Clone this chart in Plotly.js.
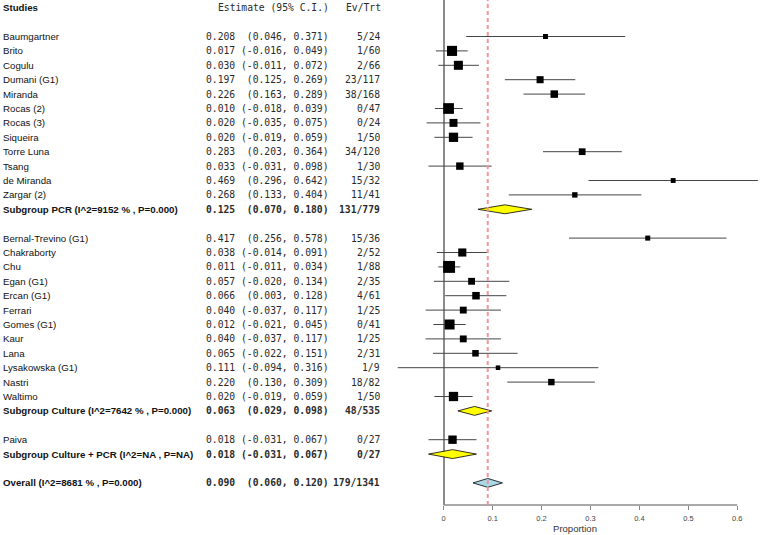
<!DOCTYPE html>
<html><head><meta charset="utf-8">
<script src="https://cdn.plot.ly/plotly-3.0.1.min.js"></script>
<style>html,body{margin:0;padding:0;background:#fff}#chart{width:760px;height:535px}</style>
</head><body><div id="chart"></div>
<script>
// ---------------- DATA ----------------
const pcrStudies = ["Baumgartner","Brito","Cogulu","Dumani (G1)","Miranda","Rocas (2)","Rocas (3)","Siqueira","Torre Luna","Tsang","de Miranda","Zargar (2)"];
const pcrEst    = [0.208,0.017,0.030,0.197,0.226,0.010,0.020,0.020,0.283,0.033,0.469,0.268];
const pcrLower  = [0.046,-0.016,-0.011,0.125,0.163,-0.018,-0.035,-0.019,0.203,-0.031,0.296,0.133];
const pcrUpper  = [0.371,0.049,0.072,0.269,0.289,0.039,0.075,0.059,0.364,0.098,0.642,0.404];
const pcrEvents = [5,1,2,23,38,0,0,1,34,1,15,11];
const pcrTotals = [24,60,66,117,168,47,24,50,120,30,32,41];

const cultureStudies = ["Bernal-Trevino (G1)","Chakraborty","Chu","Egan (G1)","Ercan (G1)","Ferrari","Gomes (G1)","Kaur","Lana","Lysakowska (G1)","Nastri","Waltimo"];
const cultureEst    = [0.417,0.038,0.011,0.057,0.066,0.040,0.012,0.040,0.065,0.111,0.220,0.020];
const cultureLower  = [0.256,-0.014,-0.011,-0.020,0.003,-0.037,-0.021,-0.037,-0.022,-0.094,0.130,-0.019];
const cultureUpper  = [0.578,0.091,0.034,0.134,0.128,0.117,0.045,0.117,0.151,0.316,0.309,0.059];
const cultureEvents = [15,2,1,2,4,1,0,1,2,1,18,1];
const cultureTotals = [36,52,88,35,61,25,41,25,31,9,82,50];

const bothStudies = ["Paiva"];
const bothEst    = [0.018];
const bothLower  = [-0.031];
const bothUpper  = [0.067];
const bothEvents = [0];
const bothTotals = [27];

const subgroupLabels = ["Subgroup PCR (I^2=9152 % , P=0.000)","Subgroup Culture (I^2=7642 % , P=0.000)","Subgroup Culture + PCR (I^2=NA , P=NA)"];
const subgroupEst    = [0.125,0.063,0.018];
const subgroupLower  = [0.070,0.029,-0.031];
const subgroupUpper  = [0.180,0.098,0.067];
const subgroupEvents = [131,48,0];
const subgroupTotals = [779,535,27];

const overallLabel  = "Overall (I^2=8681 % , P=0.000)";
const overallEst    = 0.090;
const overallLower  = 0.060;
const overallUpper  = 0.120;
const overallEvents = 179;
const overallTotal  = 1341;

const headerLabels = ["Studies","Estimate (95% C.I.)","Ev/Trt"];
const tickValues = [0,0.1,0.2,0.3,0.4,0.5,0.6];
const axisTitle = "Proportion";

// ---------------- LAYOUT HELPERS ----------------
const W = 760, H = 535, ML = 390, MB = 30;
const PW = W - ML;
const px = p => (p - ML) / PW;           // pixel -> paper x
const NBSP = "\u00A0";

const groups = [
  {names: pcrStudies, est: pcrEst, lo: pcrLower, hi: pcrUpper, ev: pcrEvents, n: pcrTotals},
  {names: cultureStudies, est: cultureEst, lo: cultureLower, hi: cultureUpper, ev: cultureEvents, n: cultureTotals},
  {names: bothStudies, est: bothEst, lo: bothLower, hi: bothUpper, ev: bothEvents, n: bothTotals}
];

const studyRows = [];
const summaryRows = [];
let r = 2;
groups.forEach((g, gi) => {
  g.names.forEach((nm, i) => {
    studyRows.push({label: nm, est: g.est[i], lo: g.lo[i], hi: g.hi[i], ev: g.ev[i], n: g.n[i], r: r++});
  });
  summaryRows.push({label: subgroupLabels[gi], est: subgroupEst[gi], lo: subgroupLower[gi], hi: subgroupUpper[gi], ev: subgroupEvents[gi], n: subgroupTotals[gi], r: r++, fill: "#ffff00"});
  r++;
});
summaryRows.push({label: overallLabel, est: overallEst, lo: overallLower, hi: overallUpper, ev: overallEvents, n: overallTotal, r: r, fill: "#a8d8e6"});

const statText = d => d.est.toFixed(3) + NBSP + ("(" + d.lo.toFixed(3) + ", " + d.hi.toFixed(3) + ")").padStart(15, NBSP).replace(/ /g, NBSP);

// ---------------- TRACES ----------------
const traces = [];
// confidence interval whiskers
traces.push({
  type: "scatter", mode: "markers",
  x: studyRows.map(d => d.est), y: studyRows.map(d => d.r),
  marker: {size: 1, opacity: 0, color: "#000"},
  error_x: {type: "data", symmetric: false,
            array: studyRows.map(d => d.hi - d.est),
            arrayminus: studyRows.map(d => d.est - d.lo),
            width: 0, thickness: 1, color: "#454545"},
  cliponaxis: false, hoverinfo: "skip"
});
// weight boxes
traces.push({
  type: "scatter", mode: "markers",
  x: studyRows.map(d => d.est), y: studyRows.map(d => d.r),
  marker: {symbol: "square", color: "#000", opacity: 1, line: {width: 0},
           size: studyRows.map(d => 0.9 + 2.34 / Math.sqrt(d.hi - d.lo))},
  cliponaxis: false, hoverinfo: "skip"
});
const DH = 0.31;
summaryRows.forEach(d => {
  traces.push({
    type: "scatter", mode: "lines", fill: "toself", fillcolor: d.fill,
    x: [d.lo, d.est, d.hi, d.est, d.lo],
    y: [d.r, d.r - DH, d.r, d.r + DH, d.r],
    line: {color: "#000", width: 0.8}, hoverinfo: "skip"
  });
});

// ---------------- ANNOTATIONS ----------------
const ann = [];
const sansFont = {family: "Liberation Sans, Arial, sans-serif", size: 9.7, color: "#111"};
const monoFont = {family: "DejaVu Sans Mono, monospace", size: 9.7, color: "#2a2a2a"};
function addRowText(d, bold) {
  const b = s => bold ? "<b>" + s + "</b>" : s;
  ann.push({xref: "paper", yref: "y", x: px(2), y: d.r, xanchor: "left", yanchor: "middle", text: b(d.label), font: sansFont});
  ann.push({xref: "paper", yref: "y", x: px(205), y: d.r, xanchor: "left", yanchor: "middle", text: b(statText(d)), font: monoFont});
  ann.push({xref: "paper", yref: "y", x: px(381), y: d.r, xanchor: "right", yanchor: "middle", text: b(d.ev + "/" + d.n), font: monoFont});
}
ann.push({xref: "paper", yref: "y", x: px(2), y: 0, xanchor: "left", yanchor: "middle", text: "<b>" + headerLabels[0] + "</b>", font: sansFont});
ann.push({xref: "paper", yref: "y", x: px(217), y: 0, xanchor: "left", yanchor: "middle", text: headerLabels[1], font: monoFont});
ann.push({xref: "paper", yref: "y", x: px(382), y: 0, xanchor: "right", yanchor: "middle", text: headerLabels[2], font: monoFont});
studyRows.forEach(d => addRowText(d, false));
summaryRows.forEach(d => addRowText(d, true));
ann.forEach(a => { a.showarrow = false; a.borderpad = 0; });

// ---------------- LAYOUT ----------------
const x0px = 443.7, pxPerUnit = 489.3;
const rowTop = 7.7, rowStep = 14.4;
const layout = {
  width: W, height: H,
  margin: {l: ML, r: 0, t: 0, b: MB, pad: 0},
  paper_bgcolor: "#fff", plot_bgcolor: "#fff",
  showlegend: false,
  xaxis: {
    range: [-(x0px - ML) / pxPerUnit, (W - x0px) / pxPerUnit],
    tickvals: tickValues, ticktext: tickValues.map(v => String(v)),
    ticks: "outside", ticklen: 4, tickwidth: 1, tickcolor: "#888",
    ticklabelstandoff: 2,
    tickfont: {family: "Liberation Sans, Arial, sans-serif", size: 7.5, color: "#444"},
    showgrid: false, showline: false,
    zeroline: true, zerolinecolor: "#8c8c8c", zerolinewidth: 2,
    title: {text: axisTitle, font: {family: "Liberation Sans, Arial, sans-serif", size: 9.5, color: "#333"}, standoff: 3},
    fixedrange: true
  },
  yaxis: {
    range: [(H - MB - rowTop) / rowStep, -rowTop / rowStep],
    visible: false, showgrid: false, zeroline: false, fixedrange: true
  },
  shapes: [
    {type: "line", xref: "x", yref: "paper", x0: tickValues[0], x1: tickValues[tickValues.length - 1], y0: 0, y1: 0,
     line: {color: "#8c8c8c", width: 1.5}},
    {type: "line", xref: "x", yref: "paper", x0: overallEst, x1: overallEst, y0: 0, y1: 1,
     line: {color: "#f3959a", width: 2, dash: "4px,3px"}, layer: "above"}
  ],
  annotations: ann
};

Plotly.newPlot("chart", traces, layout, {displayModeBar: false, staticPlot: true});
</script>
</body></html>
